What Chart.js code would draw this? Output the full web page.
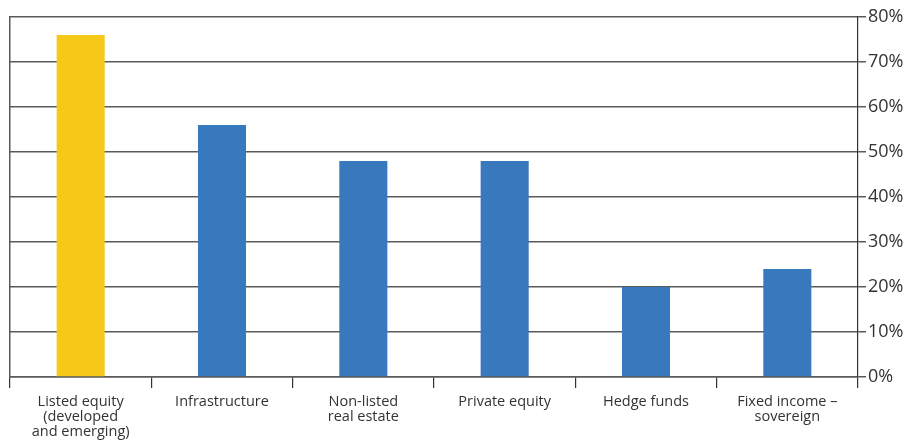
<!DOCTYPE html>
<html>
<head>
<meta charset="utf-8">
<script src="https://cdn.jsdelivr.net/npm/chart.js@4"></script>
<style>
  html, body { margin: 0; padding: 0; background: #fff; overflow: hidden; }
  #wrap { width: 920px; height: 442px; }
</style>
</head>
<body>
<div id="wrap"><canvas id="chart"></canvas></div>
<script>
// Share of respondents per asset class
const categories = [
  ['Listed equity', '(developed', 'and emerging)'],
  'Infrastructure',
  ['Non-listed', 'real estate'],
  'Private equity',
  'Hedge funds',
  ['Fixed income –', 'sovereign']
];
const shares = [76, 56, 48, 48, 20, 24];
const barColors = ['#F6C818', '#3878BD', '#3878BD', '#3878BD', '#3878BD', '#3878BD'];
const yTicks = [0, 10, 20, 30, 40, 50, 60, 70, 80];

const lineColor = '#5a5a5a';
const font = "'Open Sans', 'DejaVu Sans', sans-serif";

const ctx = document.getElementById('chart');

new Chart(ctx, {
  type: 'bar',
  data: {
    labels: categories,
    datasets: [{
      data: shares,
      backgroundColor: barColors,
      borderWidth: 0,
      barPercentage: 0.34,
      categoryPercentage: 1
    }]
  },
  options: {
    responsive: true,
    maintainAspectRatio: false,
    animation: false,
    layout: { padding: { left: 10, top: 17, right: 0, bottom: 0 } },
    plugins: { legend: { display: false }, tooltip: { enabled: false } },
    scales: {
      x: {
        grid: { drawOnChartArea: false, color: '#333', tickLength: 11, lineWidth: 1.2 },
        border: { display: true, color: lineColor, width: 1.5 },
        ticks: {
          color: '#333',
          font: { family: font, size: 14.5, lineHeight: 1.05 },
          maxRotation: 0,
          autoSkip: false,
          padding: 6
        },
        afterFit: (scale) => { scale.height = 65; }
      },
      y: {
        position: 'right',
        min: 0,
        max: 80,
        afterBuildTicks: (scale) => { scale.ticks = yTicks.map(v => ({ value: v })); },
        grid: { color: lineColor, lineWidth: 1.5, tickLength: 8 },
        border: { display: true, color: '#333', width: 1.2 },
        ticks: {
          color: '#333',
          font: { family: font, size: 18 },
          padding: 2,
          callback: (v) => v + '%'
        },
        afterFit: (scale) => { scale.width = 62; }
      },
      yl: {
        position: 'left',
        min: 0,
        max: 80,
        grid: { display: false },
        border: { display: true, color: lineColor, width: 1.5 },
        ticks: { display: false },
        afterFit: (scale) => { scale.width = 0; }
      }
    }
  }
});
</script>
</body>
</html>
